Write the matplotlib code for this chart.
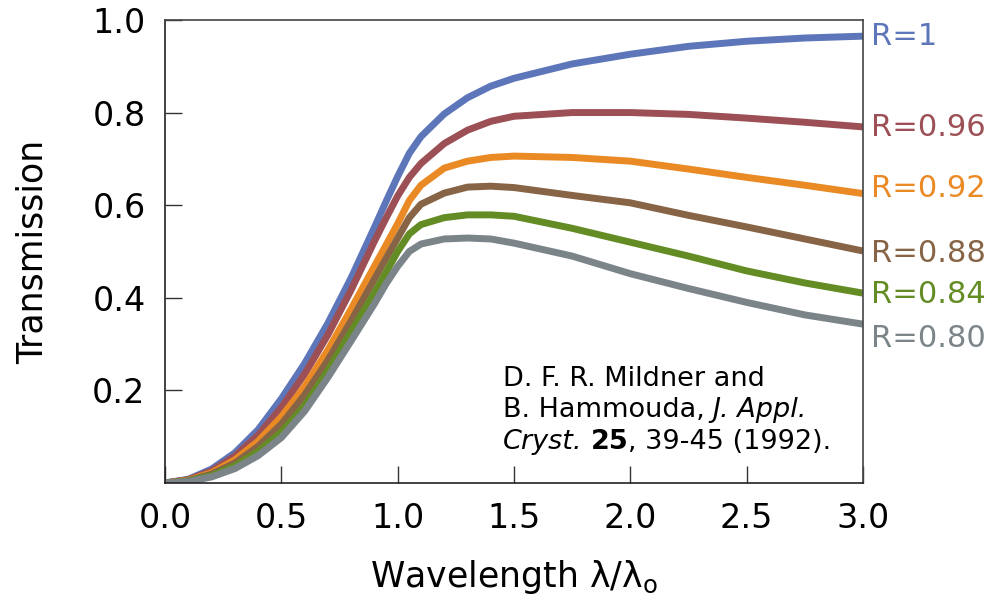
import numpy as np
import matplotlib
matplotlib.use("Agg")
import matplotlib.pyplot as plt

plt.rcParams["font.family"] = ["DejaVu Sans"]
plt.rcParams["mathtext.fontset"] = "dejavusans"

# wavelength lambda / lambda_o
wavelength = [0.0, 0.1, 0.2, 0.3, 0.4, 0.5, 0.6, 0.7, 0.8, 0.9, 0.95, 1.0,
              1.05, 1.1, 1.2, 1.3, 1.4, 1.5, 1.75, 2.0, 2.25, 2.5, 2.75, 3.0]

t_r100 = [0.0, 0.008, 0.030, 0.065, 0.115, 0.182, 0.258, 0.345, 0.443, 0.552, 0.608, 0.662,
          0.712, 0.748, 0.797, 0.832, 0.857, 0.874, 0.905, 0.926, 0.943, 0.954, 0.961, 0.965]
t_r096 = [0.0, 0.007, 0.026, 0.058, 0.103, 0.163, 0.235, 0.320, 0.417, 0.522, 0.572, 0.620,
          0.660, 0.690, 0.733, 0.762, 0.781, 0.792, 0.800, 0.800, 0.796, 0.788, 0.779, 0.769]
t_r092 = [0.0, 0.006, 0.022, 0.050, 0.090, 0.143, 0.208, 0.287, 0.376, 0.468, 0.514, 0.560,
          0.610, 0.643, 0.680, 0.695, 0.703, 0.706, 0.703, 0.695, 0.678, 0.660, 0.643, 0.625]
t_r088 = [0.0, 0.005, 0.019, 0.043, 0.079, 0.127, 0.190, 0.265, 0.350, 0.440, 0.485, 0.529,
          0.573, 0.602, 0.626, 0.639, 0.641, 0.638, 0.621, 0.605, 0.578, 0.553, 0.527, 0.501]
t_r084 = [0.0, 0.004, 0.016, 0.037, 0.068, 0.110, 0.167, 0.243, 0.327, 0.410, 0.455, 0.500,
          0.538, 0.558, 0.573, 0.579, 0.579, 0.576, 0.550, 0.520, 0.490, 0.458, 0.432, 0.410]
t_r080 = [0.0, 0.003, 0.013, 0.031, 0.059, 0.098, 0.155, 0.228, 0.307, 0.387, 0.430, 0.468,
          0.500, 0.516, 0.527, 0.529, 0.527, 0.518, 0.490, 0.452, 0.420, 0.390, 0.363, 0.343]

series_labels = ["R=1", "R=0.96", "R=0.92", "R=0.88", "R=0.84", "R=0.80"]
series = [t_r100, t_r096, t_r092, t_r088, t_r084, t_r080]
colors = ["#5d76ba", "#9c4f55", "#ea8a25", "#876446", "#648c24", "#7b8589"]
label_y = [0.965, 0.767, 0.637, 0.495, 0.406, 0.313]   # nudged so the end labels don't overlap

fig = plt.figure(figsize=(9.9, 5.99), dpi=100)
ax = fig.add_axes([0.1667, 0.1937, 0.705, 0.773])

for t, c in zip(series, colors):
    ax.plot(wavelength, t, color=c, linewidth=5.0, solid_capstyle="butt",
            solid_joinstyle="round")

ax.set_xlim(0, 3.0)
ax.set_ylim(0, 1.0)
ax.set_xticks([0.0, 0.5, 1.0, 1.5, 2.0, 2.5, 3.0])
ax.set_xticklabels(["0.0", "0.5", "1.0", "1.5", "2.0", "2.5", "3.0"])
ax.set_yticks([0.2, 0.4, 0.6, 0.8, 1.0])
ax.set_yticklabels(["0.2", "0.4", "0.6", "0.8", "1.0"])
ax.tick_params(direction="in", length=12, width=1.0, color="#333333",
               labelsize=24, pad=14)
for side, spine in ax.spines.items():
    spine.set_color("#222222" if side in ("left", "bottom") else "#444444")
    spine.set_linewidth(1.2)

ax.set_ylabel("Transmission", fontsize=25)
ax.yaxis.set_label_coords(-0.165, 0.5)
ax.set_xlabel(r"Wavelength λ/λ$_{\rm o}$", fontsize=25)
ax.xaxis.set_label_coords(0.5, -0.163)

for lab, ly, c in zip(series_labels, label_y, colors):
    ax.text(1.011, ly, lab, transform=ax.get_yaxis_transform(), color=c,
            fontsize=22, ha="left", va="center")

# citation, built from pieces so italic / bold runs sit on one baseline
cite_fs = 19.5
l1 = ax.text(0.484, 0.253, "D. F. R. Mildner and", transform=ax.transAxes,
             fontsize=cite_fs, ha="left", va="top")
l2 = ax.annotate("B. Hammouda,", xy=(0, 0), xycoords=l1, xytext=(0, -4),
                 textcoords="offset points", fontsize=cite_fs, ha="left", va="top")
ax.annotate("J. Appl.", xy=(1, 0), xycoords=l2, xytext=(6, 0),
            textcoords="offset points", fontsize=cite_fs, style="italic",
            ha="left", va="bottom")
l3 = ax.annotate("Cryst.", xy=(0, 0), xycoords=l2, xytext=(0, -4),
                 textcoords="offset points", fontsize=cite_fs, style="italic",
                 ha="left", va="top")
l3b = ax.annotate("25", xy=(1, 0), xycoords=l3, xytext=(6, 0),
                  textcoords="offset points", fontsize=cite_fs, weight="bold",
                  ha="left", va="bottom")
ax.annotate(", 39-45 (1992).", xy=(1, 0), xycoords=l3b, xytext=(0, 0),
            textcoords="offset points", fontsize=cite_fs, ha="left", va="bottom")

fig.savefig("out.png", dpi=100)
